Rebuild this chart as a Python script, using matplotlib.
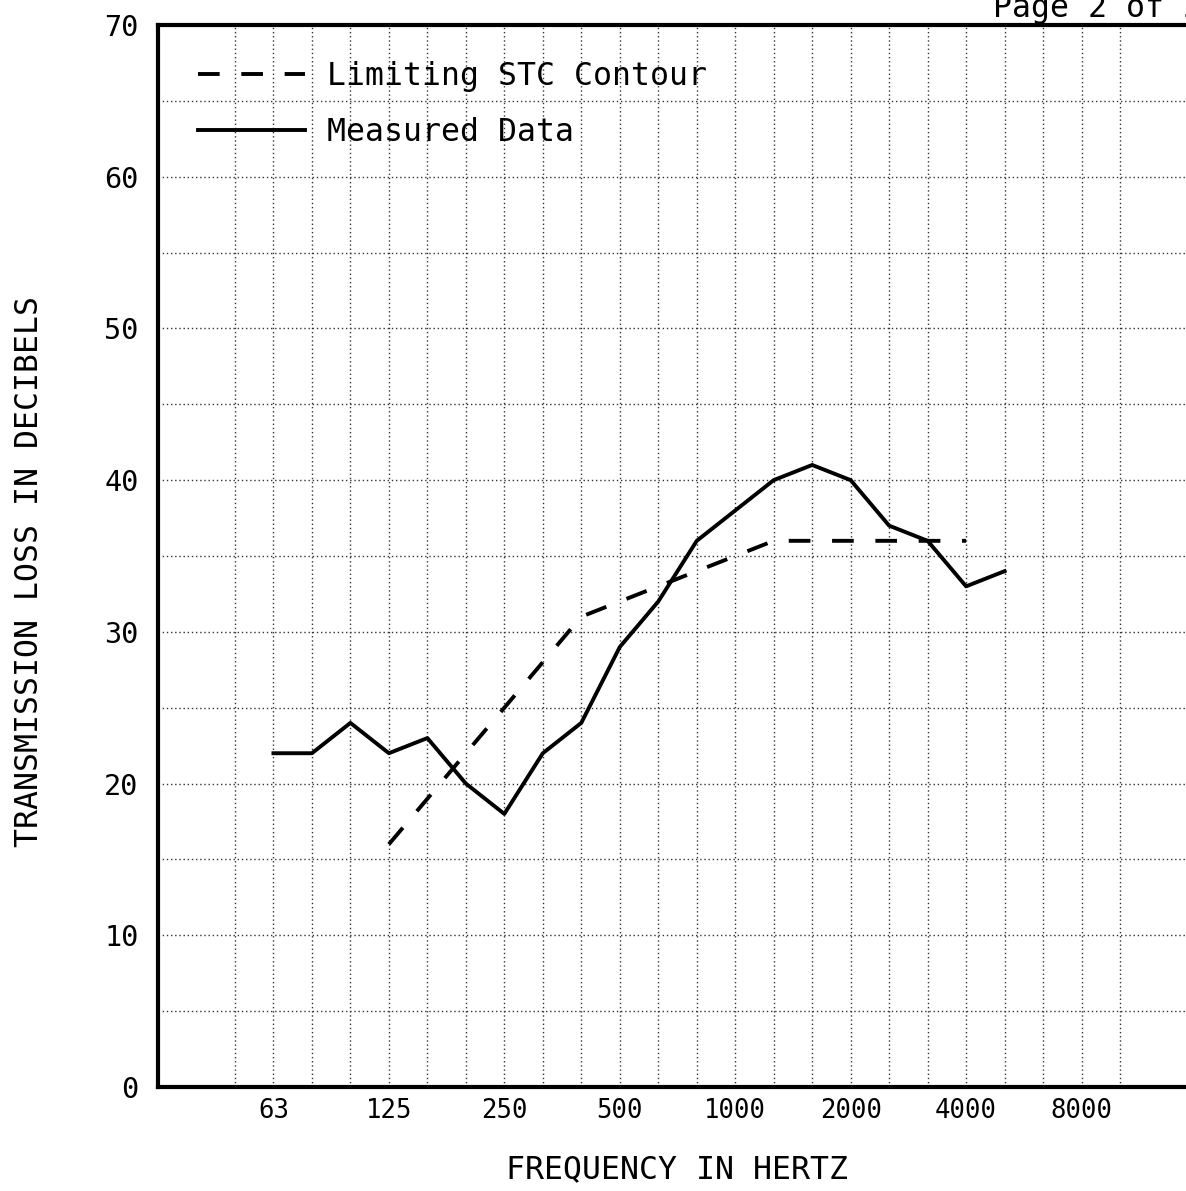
import numpy as np
import matplotlib
matplotlib.use('Agg')
import matplotlib.pyplot as plt

# third-octave bands shown on the grid
bands = [50, 63, 80, 100, 125, 160, 200, 250, 315, 400, 500, 630, 800,
         1000, 1250, 1600, 2000, 2500, 3150, 4000, 5000, 6300, 8000, 10000]
labelled = [63, 125, 250, 500, 1000, 2000, 4000, 8000]

# measured transmission loss, 63 Hz .. 5000 Hz
meas_freq = [63, 80, 100, 125, 160, 200, 250, 315, 400, 500, 630, 800,
             1000, 1250, 1600, 2000, 2500, 3150, 4000, 5000]
meas_tl = [22, 22, 24, 22, 23, 20, 18, 22, 24, 29, 32, 36,
           38, 40, 41, 40, 37, 36, 33, 34]

# limiting STC contour, 125 Hz .. 4000 Hz
stc_freq = [125, 160, 200, 250, 315, 400, 500, 630, 800, 1000, 1250,
            1600, 2000, 2500, 3150, 4000]
stc_tl = [16, 19, 22, 25, 28, 31, 32, 33, 34, 35, 36, 36, 36, 36, 36, 36]

plt.rcParams['font.family'] = ['DejaVu Sans Mono']

W, H = 1186, 1191
fig = plt.figure(figsize=(W / 100, H / 100), dpi=100)
ax = fig.add_axes([158 / W, 1 - 1087 / H, 1039 / W, 1062 / H])

pos = {f: i for i, f in enumerate(bands)}
mx = [pos[f] for f in meas_freq]
sx = [pos[f] for f in stc_freq]

ax.plot(sx, stc_tl, color='black', lw=2.8, dashes=(5.57, 5.57),
        label='Limiting STC Contour', dash_capstyle='butt')
ax.plot(mx, meas_tl, color='black', lw=2.8, label='Measured Data')

ax.set_xlim(-2, 25)
ax.set_ylim(0, 70)

ax.set_xticks(range(len(bands)))
ax.set_xticklabels([str(f) if f in labelled else '' for f in bands], fontsize=18.5)
ax.set_yticks(np.arange(0, 71, 10))
ax.set_yticks(np.arange(5, 70, 10), minor=True)
ax.tick_params(axis='x', length=0, pad=8)
ax.tick_params(axis='y', which='both', length=0, pad=14, labelsize=20.5)

ax.grid(True, which='both', color='0.2', lw=1.0, ls=(0, (1, 2)))

for s in ['left', 'bottom', 'top']:
    ax.spines[s].set_linewidth(3)
ax.spines['right'].set_visible(False)

leg = ax.legend(loc='upper left', bbox_to_anchor=(40 / 1039, 0.9665),
                frameon=False, fontsize=22.7, handlelength=3.4,
                handletextpad=0.7, borderpad=0, borderaxespad=0,
                labelspacing=0.8)

fig.text(30 / W, 1 - 571 / H, 'TRANSMISSION LOSS IN DECIBELS', rotation=90,
         ha='center', va='center', fontsize=22.7)
fig.text(677 / W, 1 - 1170 / H, 'FREQUENCY IN HERTZ', ha='center',
         va='center', fontsize=22.7)
# page marker, cropped at the top-right edge as in the scan
fig.text(993 / W, 1 - 17 / H, 'Page 2 of 2', ha='left', va='baseline',
         fontsize=22.7)

fig.savefig('out.png', dpi=100)
